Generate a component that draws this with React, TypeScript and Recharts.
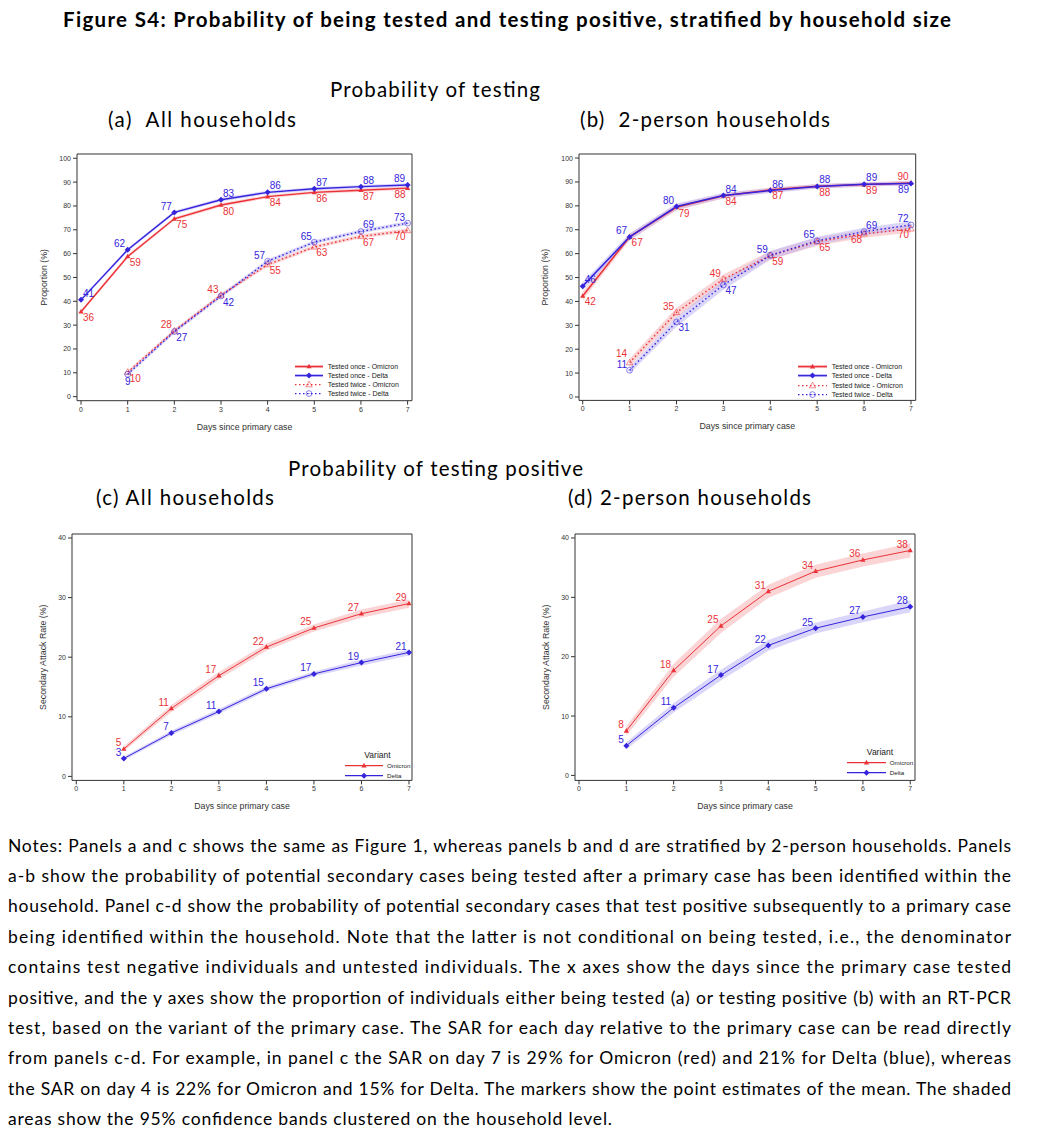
import React from "react";
import { ComposedChart, Line, Area, XAxis, YAxis, Legend, LabelList, ReferenceLine } from "recharts";

const RED = "#ea3238";
const BLUE = "#3524dc";
const RED_BAND = "#f7b0b3";
const BLUE_BAND = "#bcb5f5";
const AXIS = "#333333";
const CHART_FONT = "'Liberation Sans', Arial, sans-serif";
const TEXT_FONT = "Lato, 'Open Sans', sans-serif";

// x axis: days since primary case
const days = [0, 1, 2, 3, 4, 5, 6, 7];
const pctTicks = [0, 10, 20, 30, 40, 50, 60, 70, 80, 90, 100];
const sarTicks = [0, 10, 20, 30, 40];

// (a) all households - probability of testing (days 0-7 for "once", 1-7 for "twice")
const aOnceOmicron = [35.6, 58.8, 74.6, 80.4, 83.9, 85.7, 86.6, 87.5];
const aOnceOmicronLo = [34.9, 58.1, 73.9, 79.7, 83.2, 85.0, 85.9, 86.8];
const aOnceOmicronHi = [36.3, 59.5, 75.3, 81.1, 84.6, 86.4, 87.3, 88.2];
const aOnceDelta = [40.6, 61.6, 77.3, 82.6, 85.7, 87.2, 88.1, 88.8];
const aOnceDeltaLo = [39.9, 60.9, 76.6, 81.9, 85.0, 86.5, 87.4, 88.1];
const aOnceDeltaHi = [41.3, 62.3, 78.0, 83.3, 86.4, 87.9, 88.8, 89.5];
const aTwiceOmicron = [10.3, 27.6, 42.6, 55.4, 62.8, 67.2, 69.7];
const aTwiceOmicronLo = [9.6, 26.8, 41.8, 54.6, 62.0, 66.4, 68.9];
const aTwiceOmicronHi = [11.0, 28.4, 43.4, 56.2, 63.6, 68.0, 70.5];
const aTwiceDelta = [9.4, 27.3, 42.2, 56.8, 64.8, 69.3, 72.8];
const aTwiceDeltaLo = [8.7, 26.5, 41.4, 56.0, 64.0, 68.5, 72.0];
const aTwiceDeltaHi = [10.1, 28.1, 43.0, 57.6, 65.6, 70.1, 73.6];

// (b) 2-person households - probability of testing
const bOnceOmicron = [42.3, 67.0, 79.4, 84.2, 86.7, 88.2, 88.9, 89.6];
const bOnceOmicronLo = [40.6, 65.6, 78.1, 83.1, 85.7, 87.3, 88.0, 88.7];
const bOnceOmicronHi = [44.0, 68.4, 80.7, 85.3, 87.7, 89.1, 89.8, 90.5];
const bOnceDelta = [46.4, 67.0, 79.7, 84.3, 86.4, 88.1, 89.0, 89.4];
const bOnceDeltaLo = [44.8, 65.6, 78.4, 83.2, 85.4, 87.2, 88.1, 88.5];
const bOnceDeltaHi = [48.0, 68.4, 81.0, 85.4, 87.4, 89.0, 89.9, 90.3];
const bTwiceOmicron = [14.4, 35.4, 49.3, 59.2, 65.0, 68.3, 70.4];
const bTwiceOmicronLo = [12.8, 33.4, 47.3, 57.4, 63.3, 66.7, 68.8];
const bTwiceOmicronHi = [16.0, 37.4, 51.3, 61.0, 66.7, 69.9, 72.0];
const bTwiceDelta = [11.2, 31.4, 46.9, 59.3, 65.4, 69.2, 72.0];
const bTwiceDeltaLo = [9.8, 29.4, 44.9, 57.5, 63.7, 67.6, 70.4];
const bTwiceDeltaHi = [12.6, 33.4, 48.9, 61.1, 67.1, 70.8, 73.6];

// (c) all households - secondary attack rate (days 1-7)
const cOmicron = [4.6, 11.4, 16.9, 21.7, 24.9, 27.3, 29.0];
const cOmicronLo = [4.2, 10.8, 16.3, 21.1, 24.3, 26.6, 28.3];
const cOmicronHi = [5.0, 12.0, 17.5, 22.3, 25.5, 28.0, 29.7];
const cDelta = [3.0, 7.3, 10.9, 14.7, 17.2, 19.1, 20.8];
const cDeltaLo = [2.7, 6.9, 10.5, 14.3, 16.8, 18.6, 20.3];
const cDeltaHi = [3.3, 7.7, 11.3, 15.1, 17.6, 19.6, 21.3];

// (d) 2-person households - secondary attack rate
const dOmicron = [7.5, 17.7, 25.2, 31.0, 34.4, 36.3, 37.9];
const dOmicronLo = [6.7, 16.6, 24.0, 29.9, 33.3, 35.2, 36.7];
const dOmicronHi = [8.3, 18.8, 26.4, 32.1, 35.5, 37.4, 39.1];
const dDelta = [5.0, 11.4, 16.9, 21.9, 24.8, 26.7, 28.4];
const dDeltaLo = [4.4, 10.6, 16.0, 21.0, 23.9, 25.8, 27.5];
const dDeltaHi = [5.6, 12.2, 17.8, 22.8, 25.7, 27.6, 29.5];

const notesLines = [
  "Notes: Panels a and c shows the same as Figure 1, whereas panels b and d are stratified by 2-person households. Panels",
  "a-b show the probability of potential secondary cases being tested after a primary case has been identified within the",
  "household. Panel c-d show the probability of potential secondary cases that test positive subsequently to a primary case",
  "being identified within the household. Note that the latter is not conditional on being tested, i.e., the denominator",
  "contains test negative individuals and untested individuals. The x axes show the days since the primary case tested",
  "positive, and the y axes show the proportion of individuals either being tested (a) or testing positive (b) with an RT-PCR",
  "test, based on the variant of the primary case. The SAR for each day relative to the primary case can be read directly",
  "from panels c-d. For example, in panel c the SAR on day 7 is 29% for Omicron (red) and 21% for Delta (blue), whereas",
  "the SAR on day 4 is 22% for Omicron and 15% for Delta. The markers show the point estimates of the mean. The shaded",
  "areas show the 95% confidence bands clustered on the household level.",
];

type Spot = "ne" | "se" | "nw" | "nnw" | "sw" | "s";
type MarkerKind = "tri" | "diamond" | "otri" | "ocirc";

interface SeriesDef {
  key: string;
  name: string;
  values: number[];
  low: number[];
  high: number[];
  firstDay: number;
  color: string;
  band: string;
  dashed: boolean;
  marker: MarkerKind;
  width: number;
  spots: Spot[];
}

// where each point's value label sits relative to the marker
const SPOT: Record<Spot, [number, number, "start" | "end" | "middle"]> = {
  ne: [2, -3, "start"],
  se: [2, 9.5, "start"],
  nw: [-2.5, -2.5, "end"],
  nnw: [-2.5, -5.5, "end"],
  sw: [-2, 9.5, "end"],
  s: [0, 11, "middle"],
};

function drawMarker(kind: MarkerKind, cx: number, cy: number, color: string, key?: any) {
  if (kind === "tri")
    return <polygon key={key} points={`${cx},${cy - 2.8} ${cx - 2.6},${cy + 1.8} ${cx + 2.6},${cy + 1.8}`} fill={color} />;
  if (kind === "diamond")
    return <polygon key={key} points={`${cx},${cy - 3} ${cx + 3},${cy} ${cx},${cy + 3} ${cx - 3},${cy}`} fill={color} />;
  if (kind === "otri")
    return (
      <polygon key={key} points={`${cx},${cy - 3.4} ${cx - 3.2},${cy + 2.2} ${cx + 3.2},${cy + 2.2}`}
        fill="none" stroke={color} strokeWidth={0.8} strokeOpacity={0.7} />
    );
  return (
    <g key={key}>
      <circle cx={cx} cy={cy} r={2.9} fill="none" stroke={color} strokeWidth={0.8} strokeOpacity={0.7} />
      <line x1={cx - 1.6} x2={cx + 1.6} y1={cy} y2={cy} stroke={color} strokeWidth={0.6} strokeOpacity={0.6} />
    </g>
  );
}

function buildRows(series: SeriesDef[]) {
  return days.map((d) => {
    const row: Record<string, any> = { day: d };
    series.forEach((s) => {
      const i = d - s.firstDay;
      const ok = i >= 0 && i < s.values.length;
      row[s.key] = ok ? s.values[i] : null;
      row[s.key + "Band"] = ok ? [s.low[i], s.high[i]] : null;
    });
    return row;
  });
}

function pointLabel(s: SeriesDef) {
  return (p: any) => {
    const x = p.x ?? p.viewBox?.x;
    const y = p.y ?? p.viewBox?.y;
    if (p.value == null || x == null || y == null) return null;
    const spot = s.spots[p.index - s.firstDay] ?? "ne";
    const [dx, dy, anchor] = SPOT[spot];
    return (
      <text key={`${s.key}-${p.index}`} x={x + dx} y={y + dy} textAnchor={anchor} fill={s.color}
        fontSize={10} fontFamily={CHART_FONT}>
        {Math.round(p.value)}
      </text>
    );
  };
}

function LegendBox({ series, title, lineW, gap, rowH, width }: any) {
  return (
    <div style={{ fontFamily: CHART_FONT, color: "#222", width }}>
      {title && (
        <div style={{ fontSize: 8.5, lineHeight: "11.5px", height: 11.5, textAlign: "center" }}>{title}</div>
      )}
      {series.map((s: SeriesDef) => (
        <div key={s.key} style={{ display: "flex", alignItems: "center", height: rowH, whiteSpace: "nowrap" }}>
          <svg width={lineW + gap} height={rowH} style={{ display: "block", flex: "none" }}>
            {!s.dashed && s.width > 1.2 && (
              <line x1={0} x2={lineW} y1={rowH / 2} y2={rowH / 2} stroke={s.band} strokeWidth={3} />
            )}
            <line x1={0} x2={lineW} y1={rowH / 2} y2={rowH / 2} stroke={s.color}
              strokeWidth={s.dashed ? 1.2 : 1.1} strokeDasharray={s.dashed ? "1.5 2.5" : undefined} />
            {drawMarker(s.marker, lineW / 2, rowH / 2, s.color)}
          </svg>
          <span style={{ fontSize: title ? 6.2 : 7, lineHeight: `${rowH}px` }}>{s.name}</span>
        </div>
      ))}
    </div>
  );
}

interface PanelDef {
  plot: [number, number, number, number];
  xDomain: [number, number];
  yDomain: [number, number];
  yTicks: number[];
  yLabel: string;
  gap: number;
  series: SeriesDef[];
  legendAt: [number, number];
  legendTitle?: string;
  legendLine: number;
  legendGap: number;
  legendRow: number;
  legendWidth: number;
}

const Y_AXIS_W = 60;
const X_AXIS_H = 45;
const M_TOP = 16;
const M_RIGHT = 20;

function Panel({ def }: { def: PanelDef }) {
  const [x0, y0, x1, y1] = def.plot;
  const left = x0 - Y_AXIS_W;
  const top = y0 - M_TOP;
  const width = x1 - x0 + Y_AXIS_W + M_RIGHT;
  const height = y1 - y0 + M_TOP + X_AXIS_H;
  const rows = buildRows(def.series);
  const tickStyle = { fontSize: 7, fill: AXIS, fontFamily: CHART_FONT };
  const labelStyle = { fontSize: 8.8, fill: AXIS, fontFamily: CHART_FONT };
  return (
    <div style={{ position: "absolute", left, top, width, height }}>
      <ComposedChart width={width} height={height} data={rows}
        margin={{ top: M_TOP, right: M_RIGHT, bottom: 0, left: 0 }}>
        <XAxis dataKey="day" type="number" domain={def.xDomain} ticks={days} interval={0}
          allowDataOverflow height={X_AXIS_H} tickSize={4} tick={tickStyle}
          axisLine={{ stroke: AXIS }} tickLine={{ stroke: AXIS }}
          label={{ value: "Days since primary case", position: "insideBottom", offset: X_AXIS_H - 29, ...labelStyle }} />
        <YAxis type="number" domain={def.yDomain} ticks={def.yTicks} interval={0}
          allowDataOverflow width={Y_AXIS_W} tickSize={4} tick={tickStyle}
          axisLine={{ stroke: AXIS }} tickLine={{ stroke: AXIS }}
          label={{ value: def.yLabel, angle: -90, position: "insideLeft", offset: Y_AXIS_W - def.gap,
            style: { textAnchor: "middle" }, ...labelStyle }} />
        {/* plot frame: top and right edges */}
        <ReferenceLine y={def.yDomain[1]} stroke={AXIS} strokeWidth={1} ifOverflow="visible" />
        <ReferenceLine x={def.xDomain[1]} stroke={AXIS} strokeWidth={1} ifOverflow="visible" />
        {def.series.map((s) => (
          <Area key={s.key + "Band"} dataKey={s.key + "Band"} type="linear" stroke="none"
            fill={s.band} fillOpacity={0.55} dot={false} activeDot={false} isAnimationActive={false} />
        ))}
        {def.series.map((s) => (
          <Line key={s.key} dataKey={s.key} name={s.name} type="linear" stroke={s.color}
            strokeWidth={s.width} strokeDasharray={s.dashed ? "1.5 2.5" : undefined}
            dot={(p: any) => (p.cx == null || p.cy == null || p.value == null)
              ? <g key={p.index} />
              : drawMarker(s.marker, p.cx, p.cy, s.color, p.index)}
            activeDot={false} isAnimationActive={false}>
            <LabelList dataKey={s.key} content={pointLabel(s)} />
          </Line>
        ))}
        <Legend layout="vertical" align="center" verticalAlign="middle"
          wrapperStyle={{ left: def.legendAt[0] - left, top: def.legendAt[1] - top, width: def.legendWidth, height: "auto" }}
          content={() => (
            <LegendBox series={def.series} title={def.legendTitle} lineW={def.legendLine}
              gap={def.legendGap} rowH={def.legendRow} width={def.legendWidth} />
          )} />
      </ComposedChart>
    </div>
  );
}

function testingSeries(
  once: [number[], number[], number[]][], twice: [number[], number[], number[]][],
  spots: Spot[][], w: number,
): SeriesDef[] {
  return [
    { key: "onceO", name: "Tested once - Omicron", values: once[0][0], low: once[0][1], high: once[0][2],
      firstDay: 0, color: RED, band: RED_BAND, dashed: false, marker: "tri", width: w, spots: spots[0] },
    { key: "onceD", name: "Tested once - Delta", values: once[1][0], low: once[1][1], high: once[1][2],
      firstDay: 0, color: BLUE, band: BLUE_BAND, dashed: false, marker: "diamond", width: w, spots: spots[1] },
    { key: "twiceO", name: "Tested twice - Omicron", values: twice[0][0], low: twice[0][1], high: twice[0][2],
      firstDay: 1, color: RED, band: RED_BAND, dashed: true, marker: "otri", width: 1.4, spots: spots[2] },
    { key: "twiceD", name: "Tested twice - Delta", values: twice[1][0], low: twice[1][1], high: twice[1][2],
      firstDay: 1, color: BLUE, band: BLUE_BAND, dashed: true, marker: "ocirc", width: 1.4, spots: spots[3] },
  ];
}

function sarSeries(o: [number[], number[], number[]], d: [number[], number[], number[]]): SeriesDef[] {
  const nw: Spot[] = ["nw", "nw", "nw", "nw", "nw", "nw", "nw"];
  return [
    { key: "omicron", name: "Omicron", values: o[0], low: o[1], high: o[2], firstDay: 1, color: RED,
      band: RED_BAND, dashed: false, marker: "tri", width: 1, spots: nw },
    { key: "delta", name: "Delta", values: d[0], low: d[1], high: d[2], firstDay: 1, color: BLUE,
      band: BLUE_BAND, dashed: false, marker: "diamond", width: 1, spots: nw },
  ];
}

const panelA: PanelDef = {
  plot: [76.7, 154, 411.7, 400.7],
  xDomain: [-0.086, 7.094],
  yDomain: [-1.7, 101.8],
  yTicks: pctTicks,
  yLabel: "Proportion (%)",
  gap: 33.4,
  series: testingSeries(
    [[aOnceOmicron, aOnceOmicronLo, aOnceOmicronHi], [aOnceDelta, aOnceDeltaLo, aOnceDeltaHi]],
    [[aTwiceOmicron, aTwiceOmicronLo, aTwiceOmicronHi], [aTwiceDelta, aTwiceDeltaLo, aTwiceDeltaHi]],
    [
      ["se", "se", "se", "se", "se", "se", "se", "sw"],
      ["ne", "nw", "nw", "ne", "ne", "ne", "ne", "nw"],
      ["se", "nw", "nw", "se", "se", "se", "sw"],
      ["s", "se", "se", "nw", "nw", "ne", "nw"],
    ],
    1.4,
  ),
  legendAt: [295, 361.5],
  legendLine: 28,
  legendGap: 4.7,
  legendRow: 9.1,
  legendWidth: 115,
};

const panelB: PanelDef = {
  plot: [579, 154.3, 915.7, 400.7],
  xDomain: [-0.079, 7.1],
  yDomain: [-1.42, 101.7],
  yTicks: pctTicks,
  yLabel: "Proportion (%)",
  gap: 34,
  series: testingSeries(
    [[bOnceOmicron, bOnceOmicronLo, bOnceOmicronHi], [bOnceDelta, bOnceDeltaLo, bOnceDeltaHi]],
    [[bTwiceOmicron, bTwiceOmicronLo, bTwiceOmicronHi], [bTwiceDelta, bTwiceDeltaLo, bTwiceDeltaHi]],
    [
      ["se", "se", "se", "se", "se", "se", "se", "nw"],
      ["ne", "nw", "nw", "ne", "ne", "ne", "ne", "sw"],
      ["nnw", "nw", "nw", "se", "se", "sw", "sw"],
      ["nw", "se", "se", "nw", "nw", "ne", "nw"],
    ],
    1.5,
  ),
  legendAt: [798, 362.2],
  legendLine: 29,
  legendGap: 4.7,
  legendRow: 9.2,
  legendWidth: 115,
};

const panelC: PanelDef = {
  plot: [71.7, 534.3, 411.7, 780.7],
  xDomain: [-0.09, 7.063],
  yDomain: [-0.67, 40.67],
  yTicks: sarTicks,
  yLabel: "Secondary Attack Rate (%)",
  gap: 29,
  series: sarSeries([cOmicron, cOmicronLo, cOmicronHi], [cDelta, cDeltaLo, cDeltaHi]),
  legendAt: [345.5, 750],
  legendTitle: "Variant",
  legendLine: 38,
  legendGap: 3.5,
  legendRow: 9.3,
  legendWidth: 64,
};

const panelD: PanelDef = {
  plot: [575, 534.3, 915, 780.7],
  xDomain: [-0.085, 7.1],
  yDomain: [-0.84, 40.67],
  yTicks: sarTicks,
  yLabel: "Secondary Attack Rate (%)",
  gap: 29,
  series: sarSeries([dOmicron, dOmicronLo, dOmicronHi], [dDelta, dDeltaLo, dDeltaHi]),
  legendAt: [847, 747],
  legendTitle: "Variant",
  legendLine: 39,
  legendGap: 3.8,
  legendRow: 9.3,
  legendWidth: 66,
};

function Heading({ x, y, w, size, bold, children }: any) {
  return (
    <text x={x} y={y} textLength={w} lengthAdjust="spacing" fontFamily={TEXT_FONT} fontSize={size}
      fontWeight={bold ? 700 : 400} fill="#000" style={{ whiteSpace: "pre" }}>
      {children}
    </text>
  );
}

export default function App() {
  return (
    <div style={{ position: "absolute", left: 0, top: 0, width: 1046, height: 1134, background: "#fff", overflow: "hidden" }}>
      <svg width={1046} height={1134} style={{ position: "absolute", left: 0, top: 0 }}>
        <Heading x={63} y={26.5} w={888} size={20.5} bold>
          Figure S4: Probability of being tested and testing positive, stratified by household size
        </Heading>
        <Heading x={330} y={97} w={210} size={20.5}>Probability of testing</Heading>
        <Heading x={108} y={127} w={188} size={20.5}>(a)  All households</Heading>
        <Heading x={580} y={127} w={250} size={20.5}>(b)  2-person households</Heading>
        <Heading x={288} y={476} w={295} size={20.5}>Probability of testing positive</Heading>
        <Heading x={96} y={505} w={178} size={20.5}>(c) All households</Heading>
        <Heading x={568} y={505} w={243} size={20.5}>(d) 2-person households</Heading>
        {notesLines.map((line, i) => (
          <Heading key={i} x={8} y={851.7 + 30.37 * i} w={i === notesLines.length - 1 ? 604 : 1003} size={17.5}>
            {line}
          </Heading>
        ))}
      </svg>
      <Panel def={panelA} />
      <Panel def={panelB} />
      <Panel def={panelC} />
      <Panel def={panelD} />
    </div>
  );
}
